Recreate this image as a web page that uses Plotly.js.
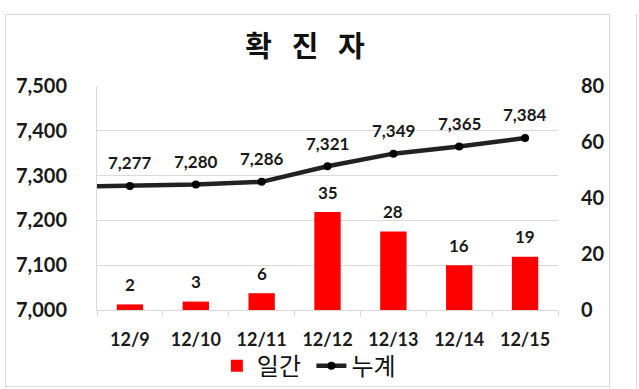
<!DOCTYPE html>
<html><head><meta charset="utf-8">
<script src="https://cdn.plot.ly/plotly-3.0.1.min.js"></script>
<style>
html,body{margin:0;padding:0;background:#fff;}
#wrap{position:relative;width:639px;height:389px;overflow:hidden;}
#frame{position:absolute;left:5px;top:14px;width:603px;height:371px;border:1px solid #d9d9d9;}
#edge{position:absolute;left:636px;top:14px;width:1px;height:375px;background:#d9d9d9;}
#chart{position:absolute;left:0;top:0;width:639px;height:389px;}
</style></head><body>
<div id="wrap"><div id="frame"></div><div id="edge"></div><div id="chart"></div></div>
<script>
// categories (12/8 only carries the line in from the left edge; it is outside the shown range)
const dates = ['12/8','12/9','12/10','12/11','12/12','12/13','12/14','12/15'];
const daily = [null, 2, 3, 6, 35, 28, 16, 19];            // 일간
const cumulative = [7275, 7277, 7280, 7286, 7321, 7349, 7365, 7384]; // 누계
const leftTicks = [7000, 7100, 7200, 7300, 7400, 7500];
const rightTicks = [0, 20, 40, 60, 80];

const tickFont = {family:'Lato, "Liberation Sans", sans-serif', size:20, color:'#1a1a1a', weight:'bold'};
const labelFont = {family:'Lato, "Liberation Sans", sans-serif', size:17, color:'#1a1a1a', weight:'bold'};

const traces = [
  {type:'bar', name:'일간\u00a0', x:dates, y:daily, yaxis:'y2',
   marker:{color:'#ff0000'}, hoverinfo:'skip'},
  {type:'scatter', mode:'lines+markers', name:'누계', x:dates, y:cumulative, yaxis:'y',
   line:{color:'#222222', width:4.5}, marker:{color:'#000000', size:8}, hoverinfo:'skip'}
];

const annotations = [];
for (let i = 0; i < dates.length; i++) {
  if (daily[i] !== null) {
    annotations.push({x:dates[i], y:daily[i], xref:'x', yref:'y2', text:String(daily[i]),
      showarrow:false, yanchor:'middle', yshift:20, font:labelFont});
    annotations.push({x:dates[i], y:cumulative[i], xref:'x', yref:'y', text:cumulative[i].toLocaleString('en-US'),
      showarrow:false, yanchor:'middle', yshift:23, font:labelFont});
  }
}

const layout = {
  width:639, height:389,
  margin:{l:97, r:81, t:86, b:79, autoexpand:false},
  paper_bgcolor:'rgba(0,0,0,0)', plot_bgcolor:'rgba(0,0,0,0)',
  title:{text:'확\u00a0\u00a0\u00a0진\u00a0\u00a0\u00a0자', x:305/639, xref:'container', xanchor:'center', y:1-47/389, yref:'container', yanchor:'middle',
    font:{family:'"Noto Sans CJK KR", sans-serif', size:29, color:'#111', weight:'bold'}},
  bargap:0.6,
  showlegend:true,
  legend:{orientation:'h', x:0.26, xanchor:'left', y:-0.15, yanchor:'top',
    font:{family:'"Noto Sans CJK KR", sans-serif', size:24, color:'#111'}, itemwidth:30, bgcolor:'rgba(0,0,0,0)'},
  xaxis:{type:'category', range:[0.5, 7.5], tickson:'boundaries', ticks:'outside', ticklen:6, tickcolor:'#d9d9d9',
    showline:true, linecolor:'#d9d9d9', linewidth:1, showgrid:false, tickfont:{family:'Lato, sans-serif', size:18, color:'#1a1a1a', weight:'bold'},
    ticklabelstandoff:13, fixedrange:true, automargin:false},
  yaxis:{range:[7000, 7500], tickvals:leftTicks, ticktext:leftTicks.map(v=>v.toLocaleString('en-US')),
    showgrid:true, gridcolor:'#d9d9d9', gridwidth:1, showline:true, linecolor:'#d9d9d9', zeroline:false,
    ticks:'', tickfont:tickFont, ticklabelstandoff:25, fixedrange:true, automargin:false},
  yaxis2:{range:[0, 80], tickvals:rightTicks, overlaying:'y', side:'right', showgrid:false, zeroline:false,
    showline:false, ticks:'', tickfont:tickFont, ticklabelstandoff:22, fixedrange:true, automargin:false},
  annotations:annotations
};

Plotly.newPlot('chart', traces, layout, {displayModeBar:false, staticPlot:true});
</script>
</body></html>
